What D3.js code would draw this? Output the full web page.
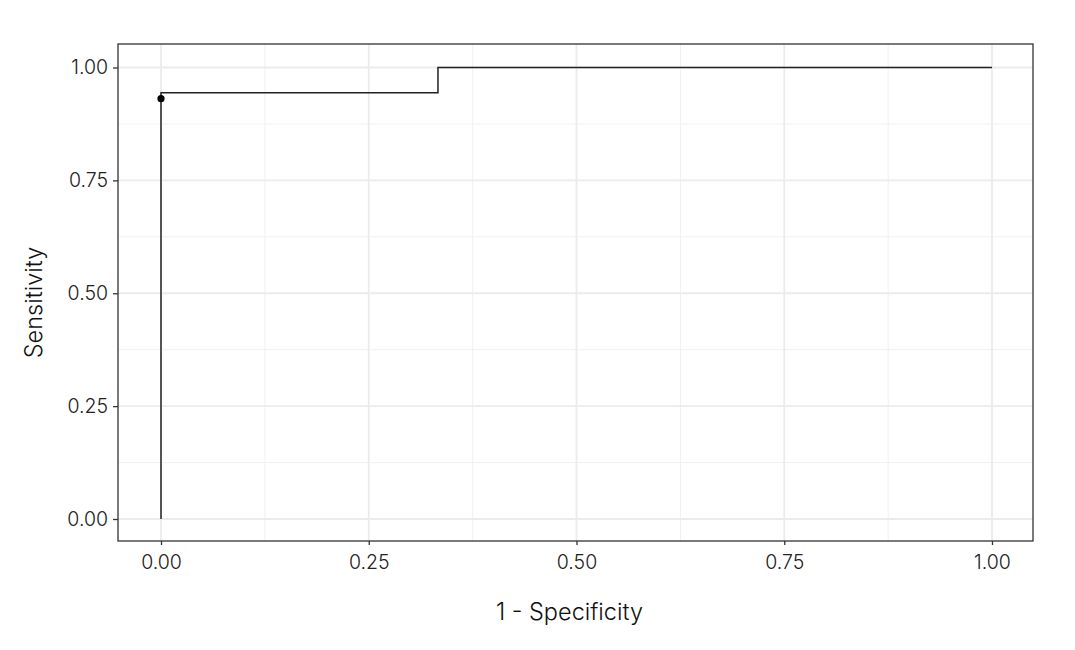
<!DOCTYPE html>
<html lang="en">
<head>
<meta charset="utf-8">
<script src="https://d3js.org/d3.v7.min.js"></script>
<style>
  body { margin: 0; background: #fff; }
  text { font-family: Inter, "DejaVu Sans", sans-serif; font-weight: 300; }
</style>
</head>
<body>
<div id="chart"></div>
<script>
    // ROC curve steps (1 - specificity, sensitivity)
    var fpr = [0, 0, 0.3333, 0.3333, 1]
    var tpr = [0, 0.944, 0.944, 1, 1]
    // chosen threshold point
    var pointFpr = [0]
    var pointTpr = [0.931]
    var tickVals = [0, 0.25, 0.5, 0.75, 1]
    var minorVals = [0.125, 0.375, 0.625, 0.875]

    var W = 1075, H = 650
    var panel = { left: 118, right: 1033, top: 44, bottom: 541 }

    var svg = d3.select("#chart").append("svg")
        .attr("width", W).attr("height", H)

    // scales padded inside the panel, like ggplot's expansion
    var x = d3.scaleLinear().domain([0, 1]).range([161, 992])
    var y = d3.scaleLinear().domain([0, 1]).range([519, 67.5])

    // minor grid
    var g = svg.append("g")
    g.selectAll(".mx").data(minorVals).enter().append("line")
        .attr("x1", d => x(d)).attr("x2", d => x(d))
        .attr("y1", panel.top).attr("y2", panel.bottom)
        .attr("stroke", "#f0f0f0").attr("stroke-width", 1)
    g.selectAll(".my").data(minorVals).enter().append("line")
        .attr("y1", d => y(d)).attr("y2", d => y(d))
        .attr("x1", panel.left).attr("x2", panel.right)
        .attr("stroke", "#f0f0f0").attr("stroke-width", 1)
    // major grid
    g.selectAll(".gx").data(tickVals).enter().append("line")
        .attr("x1", d => x(d)).attr("x2", d => x(d))
        .attr("y1", panel.top).attr("y2", panel.bottom)
        .attr("stroke", "#ebebeb").attr("stroke-width", 1.8)
    g.selectAll(".gy").data(tickVals).enter().append("line")
        .attr("y1", d => y(d)).attr("y2", d => y(d))
        .attr("x1", panel.left).attr("x2", panel.right)
        .attr("stroke", "#ebebeb").attr("stroke-width", 1.8)

    // step line
    var pts = fpr.map((d, i) => [d, tpr[i]])
    svg.append("path")
        .datum(pts)
        .attr("fill", "none")
        .attr("stroke", "#222")
        .attr("stroke-width", 1.5)
        .attr("d", d3.line().x(d => x(d[0])).y(d => y(d[1])))

    svg.selectAll(".pt").data(pointFpr).enter().append("circle")
        .attr("cx", d => x(d))
        .attr("cy", (d, i) => y(pointTpr[i]))
        .attr("r", 3.6)
        .attr("fill", "#000")

    // panel border
    svg.append("rect")
        .attr("x", panel.left).attr("y", panel.top)
        .attr("width", panel.right - panel.left).attr("height", panel.bottom - panel.top)
        .attr("fill", "none").attr("stroke", "#333").attr("stroke-width", 1.3)

    // axes
    var fmt = d3.format(".2f")
    svg.append("g")
        .attr("transform", "translate(0," + panel.bottom + ")")
        .call(d3.axisBottom(x).tickValues(tickVals).tickFormat(fmt).tickSize(4).tickPadding(10))
    svg.append("g")
        .attr("transform", "translate(" + panel.left + ",0)")
        .call(d3.axisLeft(y).tickValues(tickVals).tickFormat(fmt).tickSize(5).tickPadding(5))
    svg.selectAll(".domain").remove()
    svg.selectAll(".tick line").attr("stroke", "#333").attr("stroke-width", 1.3)
    svg.selectAll(".tick text").attr("fill", "#222").style("font-size", "19.5px")
        .style("font-family", "Inter, sans-serif").style("font-weight", 300)

    // axis titles
    svg.append("text")
        .attr("x", (panel.left + panel.right) / 2 - 6).attr("y", 620)
        .attr("text-anchor", "middle")
        .style("font-size", "23.5px").attr("fill", "#111")
        .text("1 - Specificity")
    svg.append("text")
        .attr("transform", "translate(42," + ((panel.top + panel.bottom) / 2 + 10) + ") rotate(-90)")
        .attr("text-anchor", "middle")
        .style("font-size", "23.5px").attr("fill", "#111")
        .text("Sensitivity")
</script>
</body>
</html>
